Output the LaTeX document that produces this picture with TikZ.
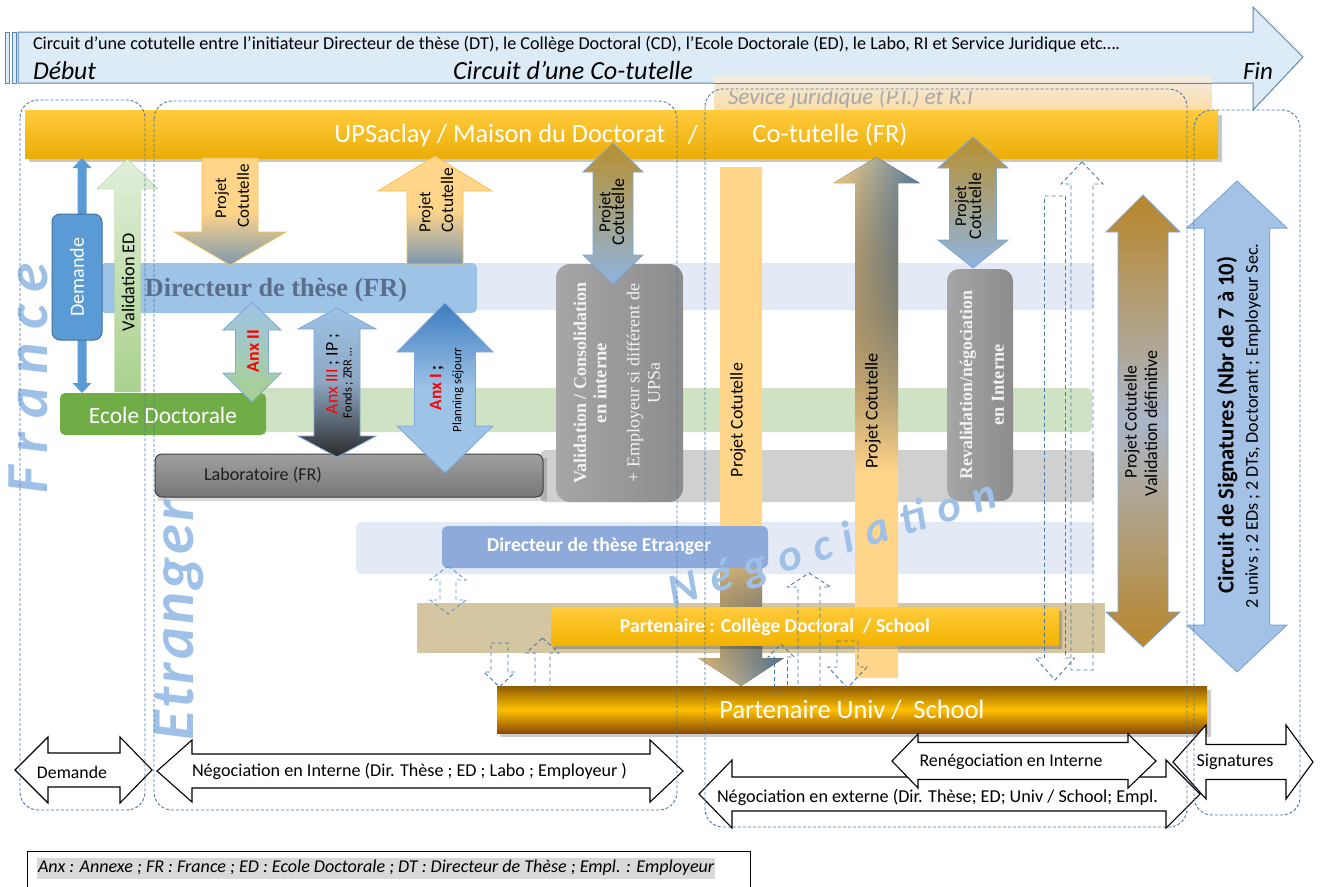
\documentclass[tikz,border=0pt]{standalone}
\usepackage{fontspec}
\setmainfont{Carlito}
\newfontfamily\tms{Liberation Serif}
\usepackage{graphicx}
\usetikzlibrary{fadings}
\definecolor{bnfill}{HTML}{DDEBF7}
\definecolor{bnline}{HTML}{5B87B5}
\definecolor{dashc}{HTML}{4A76A8}
\definecolor{dashl}{HTML}{5B9BD5}
\definecolor{ytop}{HTML}{FFCB3D}
\definecolor{ybot}{HTML}{EBAE08}
\definecolor{laneb}{HTML}{E3EAF5}
\definecolor{dtbox}{HTML}{9DC3E6}
\definecolor{dttext}{HTML}{5A6E8C}
\definecolor{laneg}{HTML}{CFE3C4}
\definecolor{edbox}{HTML}{70AD47}
\definecolor{lanegr}{HTML}{D0D0D0}
\definecolor{dtebox}{HTML}{8EAADB}
\definecolor{lanet}{HTML}{D3C6A1}
\definecolor{orng}{HTML}{FFD58A}
\definecolor{orngl}{HTML}{F5C15A}
\definecolor{steel}{HTML}{5A82A8}
\definecolor{steell}{HTML}{7D98B0}
\definecolor{gold}{HTML}{B8902E}
\definecolor{brown}{HTML}{B8862B}
\definecolor{abl}{HTML}{8FB4E0}
\definecolor{aedge}{HTML}{7FA6D8}
\definecolor{bigtxt}{HTML}{9FC1E7}
\definecolor{demc}{HTML}{5B9BD5}
\definecolor{demd}{HTML}{41719C}
\definecolor{vlight}{HTML}{E2EFDA}
\definecolor{vgreen}{HTML}{A9D18E}
\definecolor{grayA}{HTML}{A6A6A6}
\definecolor{grayB}{HTML}{8C8C8C}
\definecolor{grayT}{HTML}{F2F2F2}
\definecolor{sigf}{HTML}{A3C2E6}
\definecolor{sigd}{HTML}{7EA6D6}
\definecolor{midbl}{HTML}{ABB6C8}
\definecolor{anxb}{HTML}{3D7CC0}
\definecolor{anx3m}{HTML}{8DA6C2}
\definecolor{dark}{HTML}{2B2B2B}
\definecolor{pubrown}{HTML}{8E5C05}
\definecolor{pubot}{HTML}{8A4B05}
\definecolor{yel}{HTML}{FFC000}
\definecolor{pcdbot}{HTML}{F3B300}
\definecolor{sjtop}{HTML}{F1ECE4}
\definecolor{sjbot}{HTML}{FCDCA6}
\definecolor{sjtxt}{HTML}{A8A8A8}
\definecolor{legbg}{HTML}{D9D9D9}
\definecolor{labtop}{HTML}{A0A0A0}
\definecolor{labbot}{HTML}{767676}
\definecolor{labd}{HTML}{404040}
\newcommand\fw[2]{\resizebox{#1pt}{!}{#2}}
\newcommand\DUA[8]{\path[#1] (#2,#3) -- ({#2+#8},#4) -- ({#2+#7},#4) -- ({#2+#7},#5) -- ({#2+#8},#5) -- (#2,#6) -- ({#2-#8},#5) -- ({#2-#7},#5) -- ({#2-#7},#4) -- ({#2-#8},#4) -- cycle;}
\newcommand\UPA[7]{\path[#1] (#2,#3) -- ({#2+#7},#4) -- ({#2+#6},#4) -- ({#2+#6},#5) -- ({#2-#6},#5) -- ({#2-#6},#4) -- ({#2-#7},#4) -- cycle;}
\newcommand\DNA[7]{\path[#1] ({#2-#6},#3) -- ({#2+#6},#3) -- ({#2+#6},#4) -- ({#2+#7},#4) -- (#2,#5) -- ({#2-#7},#4) -- ({#2-#6},#4) -- cycle;}
\newcommand\LRA[8]{\path[#1] (#3,#2) -- (#4,{#2-#8}) -- (#4,{#2-#7}) -- (#5,{#2-#7}) -- (#5,{#2-#8}) -- (#6,#2) -- (#5,{#2+#8}) -- (#5,{#2+#7}) -- (#4,{#2+#7}) -- (#4,{#2+#8}) -- cycle;}
\tikzset{
  lbl/.style={inner sep=0pt, outer sep=0pt},
  vlbl/.style={inner sep=0pt, outer sep=0pt, rotate=90},
  dashbox/.style={draw=dashc, dash pattern=on 3pt off 2pt, line width=0.9pt, rounded corners=18pt},
  dsharrow/.style={draw=dashc, dash pattern=on 4pt off 3pt, line width=0.9pt},
  dsharrowl/.style={draw=dashl, dash pattern=on 4pt off 3pt, line width=0.9pt},
  outarrow/.style={draw=black, fill=white, line width=1.1pt},
}
\begin{document}
\begin{tikzpicture}[x=1pt,y=-1pt]
\useasboundingbox (0,0) rectangle (1327,886);
\fill[white] (0,0) rectangle (1327,886);
% banner
\path[fill=bnfill, draw=bnline, line width=1pt] (18,32) -- (1253,32) -- (1253,7) -- (1303,57) -- (1253,110) -- (1253,83) -- (18,83) -- cycle;
\path[fill=bnfill, draw=bnline, line width=0.8pt] (5,32) rectangle (9,83);
\path[fill=bnfill, draw=bnline, line width=0.8pt] (12,32) rectangle (16,83);
\node[lbl, anchor=west] (hdr) at (33,44) {\fw{1087}{Circuit d’une cotutelle entre l’initiateur Directeur de thèse (DT), le Collège Doctoral (CD), l’Ecole Doctorale (ED), le Labo, RI et Service Juridique etc….}};
\node[lbl, anchor=west] (deb) at (33,71) {\fw{63}{\itshape Début}};
\node[lbl] (circ) at (573,71) {\fw{240}{\itshape Circuit d’une Co-tutelle}};
\node[lbl, anchor=west] (fin) at (1243,71) {\fw{30}{\itshape Fin}};
% service juridique
\fill[top color=sjtop, bottom color=sjbot] (714,76) rectangle (1212,110);
\draw[bnline, line width=0.8pt] (714,83) -- (1212,83);
\begin{scope}
\clip (700,91) rectangle (1000,112);
\node[lbl, anchor=west, text=sjtxt] (sj) at (728,98) {\fw{245}{\itshape Sevice juridique (P.I.) et R.I}};
\end{scope}
% main yellow band
\fill[black, opacity=0.22] (29,115) rectangle (1222,162);
\path[top color=ytop, bottom color=ybot] (25,110) rectangle (1218,158);
\node[lbl, text=white] (ups) at (500,135) {\fw{331}{UPSaclay / Maison du Doctorat}};
\node[lbl, text=white, font=\fontsize{26}{30}\selectfont] (slash) at (693,135) {/};
\node[lbl, text=white] (cot) at (830,135) {\fw{155}{Co-tutelle (FR)}};
% lanes
\fill[laneb, rounded corners=5pt] (100,263) rectangle (1094,310);
\fill[laneg, rounded corners=5pt] (255,388) rectangle (1092,432);
\fill[lanegr, rounded corners=5pt] (540,450) rectangle (1094,502);
\fill[laneb, rounded corners=5pt] (356,522) rectangle (1094,574);
\fill[lanet] (417,603) rectangle (1105,653);
% boxes
\fill[dtbox, rounded corners=5pt] (100,263) rectangle (477,313);
\node[lbl, text=dttext] (dtt) at (276,290) {\fw{262}{\tms\bfseries Directeur de thèse (FR)}};
\fill[edbox, rounded corners=5pt] (60,393) rectangle (266,435);
\node[lbl, text=white] (edt) at (163,415) {\fw{148}{Ecole Doctorale}};
\fill[black, opacity=0.15] (158,458) rectangle (547,501);
\path[top color=labtop, bottom color=labbot, draw=labd, line width=1pt, rounded corners=7pt] (155,454) rectangle (543,497);
\node[lbl, text=black!88] (lab) at (263,475) {\fw{118}{Laboratoire (FR)}};
\path[left color=grayA, right color=grayB, rounded corners=14pt] (556,264) rectangle (683,502);
\node[vlbl, text=grayT] (v1) at (580,383) {\fw{201}{\tms\bfseries Validation / Consolidation}};
\node[vlbl, text=grayT] (v2) at (600,383) {\fw{80}{\tms\bfseries en interne}};
\node[vlbl, text=grayT] (v3) at (635,383) {\fw{199}{\tms + Employeur si différent de}};
\node[vlbl, text=grayT] (v4) at (654,383) {\fw{41}{\tms UPSa}};
\path[left color=grayA, right color=grayB, rounded corners=12pt] (947,269) rectangle (1013,501);
\node[vlbl, text=grayT] (r1) at (968,385) {\fw{189}{\tms\bfseries Revalidation/négociation}};
\node[vlbl, text=grayT] (r2) at (998,385) {\fw{81}{\tms\bfseries en Interne}};
% yellow vertical bars
\DNA{fill=orng}{741}{167}{658}{686}{21}{43}
\begin{scope}
\DNA{clip}{741}{167}{658}{686}{21}{43}
\fill[left color=orng, right color=steel, path fading=north] (697,540) rectangle (785,690);
\end{scope}
\UPA{fill=orng}{876.5}{157}{183}{678}{21.5}{43}
\begin{scope}
\UPA{clip}{876.5}{157}{183}{678}{21.5}{43}
\fill[left color=orng, right color=steel, path fading=south] (833,155) rectangle (920,470);
\end{scope}
\node[vlbl] (yb1) at (738,420) {\fw{114}{Projet Cotutelle}};
\node[vlbl] (yb2) at (873,411) {\fw{115}{Projet Cotutelle}};
% foreign boxes
\fill[dtebox, rounded corners=6pt] (442,526) rectangle (768,568);
\node[lbl, text=white] (dtet) at (599,546) {\fw{224}{\bfseries Directeur de thèse Etranger}};
\fill[black, opacity=0.2] (554,611) rectangle (1062,649);
\path[top color=ytop, bottom color=pcdbot] (551,607) rectangle (1059,645);
\node[lbl, text=white] (pcdt) at (775,627) {\fw{310}{\bfseries Partenaire : Collège Doctoral~ / School}};
\fill[black, opacity=0.2] (500,690) rectangle (1211,737);
\path[top color=pubrown, bottom color=pubot, middle color=yel] (497,686) rectangle (1207,733);
\node[lbl, text=white] (put) at (852,710) {\fw{265}{Partenaire Univ /~ School}};
% arrows
\DUA{fill=demc}{82}{158}{168}{383}{393}{4.5}{9.5}
\path[fill=demc, draw=demd, line width=1pt, rounded corners=8pt] (52,214) rectangle (102,340);
\node[vlbl, text=white] (dem) at (77,277) {\fw{79}{Demande}};
\UPA{top color=vlight, bottom color=vgreen, draw=vgreen}{127.5}{159}{189}{392}{13}{30.5}
\node[vlbl] (ved) at (128,282) {\fw{98}{Validation ED}};
\DNA{top color=orng, bottom color=steell, middle color=orng, draw=orngl, line width=0.8pt}{230}{158}{232}{265}{28}{56}
\node[vlbl] (a1) at (222,198) {\fw{40}{Projet}};
\node[vlbl] (a2) at (243,196) {\fw{63}{Cotutelle}};
\UPA{top color=orng, bottom color=steell, middle color=orng, draw=orngl, line width=0.8pt}{435}{156}{191}{264}{28}{57}
\node[vlbl] (b1) at (426,212) {\fw{41}{Projet}};
\node[vlbl] (b2) at (447,200) {\fw{65}{Cotutelle}};
\DUA{top color=gold, bottom color=abl, draw=aedge, line width=0.8pt}{613}{143}{172}{255}{284}{20}{30}
\node[vlbl] (c1) at (606,212) {\fw{41}{Projet}};
\node[vlbl] (c2) at (618,212) {\fw{66}{Cotutelle}};
\DUA{top color=gold, bottom color=abl, draw=aedge, line width=0.8pt}{973}{137}{168}{240}{268}{23.5}{35}
\node[vlbl] (d1) at (962,206) {\fw{40}{Projet}};
\node[vlbl] (d2) at (975,206) {\fw{66}{Cotutelle}};
\DUA{top color=dtbox, bottom color=vgreen, draw=aedge, line width=0.8pt}{252}{302}{330}{373}{402}{16.5}{29}
\node[vlbl, text=red] (ax2) at (253,351) {\fw{42}{\bfseries Anx II}};
\DUA{top color=dtbox, bottom color=dark, middle color=anx3m, draw=aedge, line width=0.8pt}{337}{308}{329}{436}{457}{23}{39}
\node[vlbl] (ax3a) at (333,374) {\fw{80}{\textcolor{red}{Anx III} ; IP ;}};
\node[vlbl] (ax3b) at (348,383) {\fw{70}{Fonds ; ZRR …}};
\DUA{top color=anxb, bottom color=dtbox, middle color=dtbox, draw=aedge, line width=0.8pt}{445}{303}{352}{426}{473}{30.5}{48}
\node[vlbl] (ax1a) at (437,388) {\fw{45}{\bfseries\textcolor{red}{Anx I} ;}};
\node[vlbl] (ax1b) at (458,390) {\fw{85}{Planning séjourr}};
\DUA{top color=brown, bottom color=brown, middle color=midbl, draw=aedge, line width=0.8pt}{1143}{195}{232}{612}{647}{25}{37}
\node[vlbl] (br1) at (1132,422) {\fw{112}{Projet Cotutelle}};
\node[vlbl] (br2) at (1151,423) {\fw{146}{Validation définitive}};
\DUA{fill=sigf, draw=sigd, line width=1pt}{1237}{181}{228}{625}{672}{32.5}{50}
\node[vlbl] (sg1) at (1227,425) {\fw{337}{\bfseries Circuit de Signatures (Nbr de 7 à 10)}};
\node[vlbl] (sg2) at (1253,426) {\fw{365}{2 univs ; 2 EDs ; 2 DTs, Doctorant ; Employeur Sec.}};
% dashed arrows
\UPA{dsharrow}{1082}{162}{184}{670}{11}{21}
\DNA{dsharrow}{1055}{196}{658}{680}{10.5}{19.5}
\UPA{dsharrow}{809}{573}{587}{687}{11}{21.5}
\UPA{dsharrow}{781}{644}{657}{692}{6.5}{13}
\DNA{dsharrow}{847.5}{641}{667}{688}{10.5}{19.5}
\DUA{dsharrowl}{448}{566}{580}{600}{614}{8}{18}
\DNA{dsharrow}{499.5}{643}{672}{687}{8.5}{15.5}
\UPA{dsharrow}{542.5}{638}{653}{690}{7.5}{16.5}
% bottom arrows
\LRA{outarrow}{770}{15}{48}{120}{152}{17}{33}
\node[lbl] (bdem) at (72,772) {\fw{70}{Demande}};
\LRA{outarrow}{771}{157}{192}{650}{683}{17}{31}
\node[lbl, anchor=west] (bneg) at (192,771) {\fw{435}{Négociation en Interne (Dir. Thèse ; ED ; Labo ; Employeur )}};
\LRA{outarrow}{794}{699}{732}{1166}{1200}{17}{34}
\node[lbl, anchor=west] (bext) at (717,797) {\fw{441}{Négociation en externe (Dir. Thèse; ED; Univ / School; Empl.}};
\LRA{outarrow}{761}{892}{918}{1128}{1156}{18.5}{27}
\node[lbl] (bren) at (1011,762) {\fw{183}{Renégociation en Interne}};
\LRA{outarrow}{762}{1173}{1206}{1286}{1313}{17.5}{37}
\node[lbl] (bsig) at (1235,762) {\fw{77}{Signatures}};
% big words
\node[vlbl, text=bigtxt] (fr) at (28,378) {\fw{230}{\bfseries\itshape\addfontfeatures{LetterSpace=22}France}};
\node[vlbl, text=bigtxt] (et) at (179,620) {\fw{240}{\bfseries\itshape\addfontfeatures{LetterSpace=5}Etranger}};
\node[lbl, rotate=17, text=bigtxt] (neg) at (833,545) {\fw{340}{\bfseries\itshape\addfontfeatures{LetterSpace=28}Négociation}};
% containers
\draw[dashbox] (20,100) rectangle (145,810);
\draw[dashbox] (154,101) rectangle (677,810);
\draw[dashbox] (705,89) rectangle (1187,827);
\draw[dashbox] (1194,110) rectangle (1300,815);
% legend
\draw[black, line width=1pt] (27,900) -- (27,851) -- (750,851) -- (750,900);
\fill[legbg] (37,858) rectangle (715,879);
\node[lbl, anchor=west] (leg) at (38,868) {\fw{676}{\itshape Anx : Annexe ; FR : France ; ED : Ecole Doctorale ; DT : Directeur de Thèse ; Empl. : Employeur}};
\end{tikzpicture}
\end{document}
